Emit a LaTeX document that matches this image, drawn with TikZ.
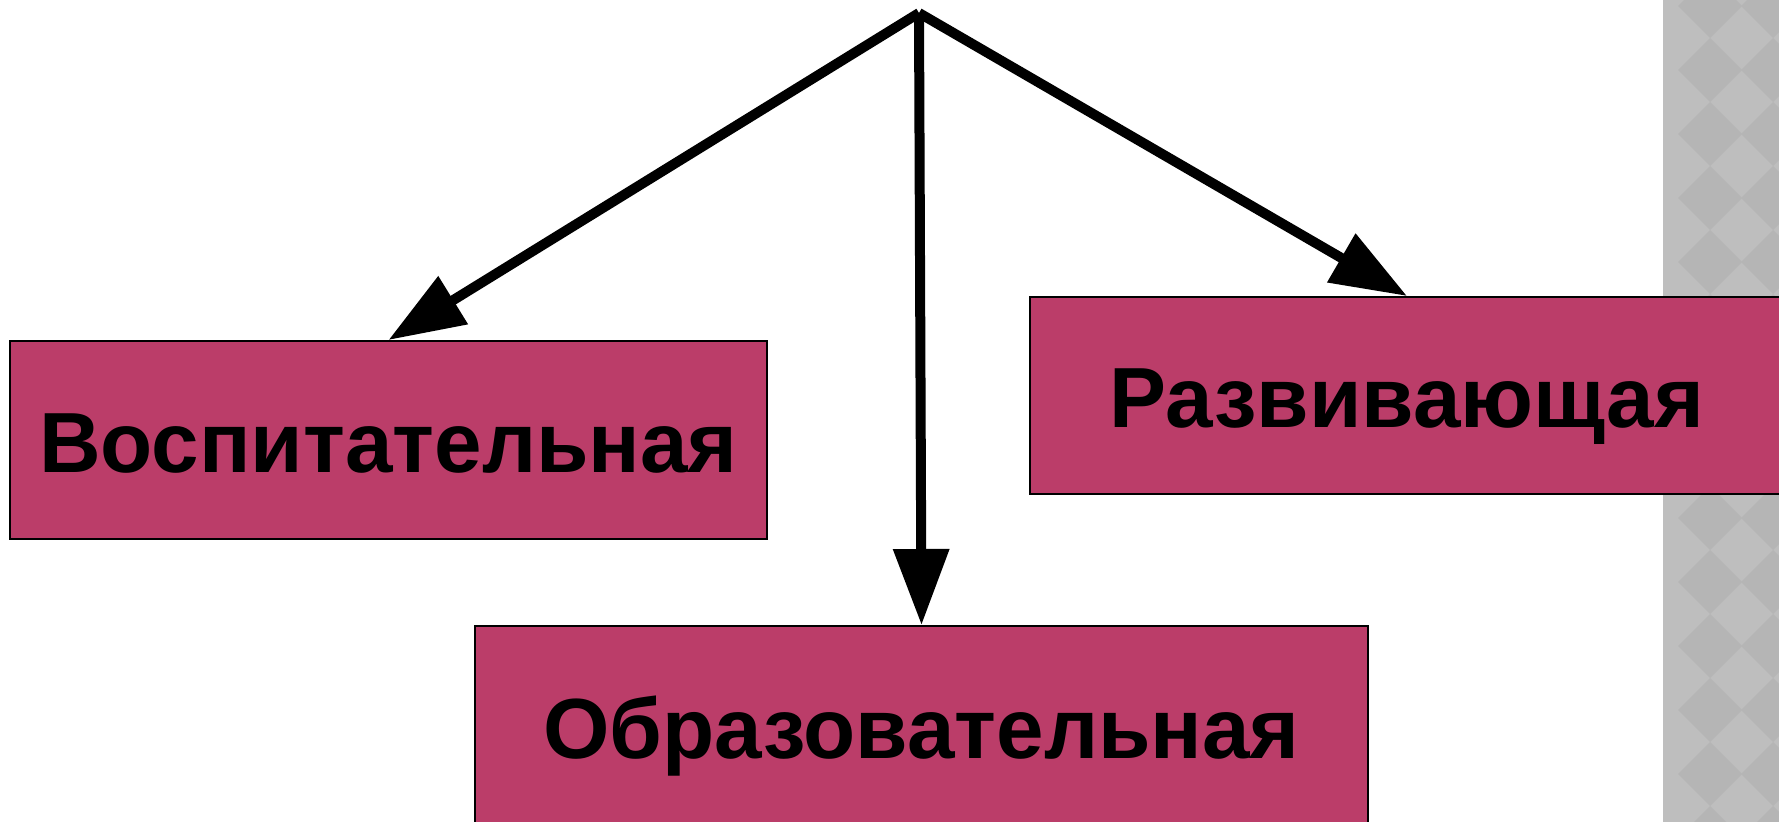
\documentclass[tikz,border=0pt]{standalone}
\usepackage{fontspec}
\setmainfont{Liberation Sans}
\usepackage{tikz}
\usetikzlibrary{arrows.meta}

\definecolor{boxred}{HTML}{BB3D69}
\definecolor{stripA}{HTML}{BEBEBE}
\definecolor{stripB}{HTML}{B5B5B5}

\tikzset{
  kind/.style={draw=black, line width=1pt, fill=boxred, inner sep=0pt,
    text height=36pt, text depth=4pt,
    font=\fontsize{42.7}{50}\selectfont\bfseries},
  arr/.style={line width=5pt, -{Triangle[length=38pt, width=27pt]}}
}

\begin{document}
\begin{tikzpicture}[x=0.5pt, y=-0.5pt]
    \useasboundingbox (0, 0) rectangle (1779, 821);
    \clip (0, 0) rectangle (1779, 821);
    % grey strip on the right
    \fill[stripA] (1663, -10) rectangle (1790, 830);
    \begin{scope}
      \clip (1663, -10) rectangle (1790, 830);
      \foreach \i in {0, ..., 2}
        \foreach \j in {0, ..., 14}
          \fill[stripB] ({1710 + 63*\i}, {38 + 64*(\j - 1)}) -- ++(32, 32) -- ++(-32, 32) -- ++(-32, -32) -- cycle;
    \end{scope}
    \coordinate (top) at (919, 13);
    \node[kind, minimum width=378.5pt, minimum height=99pt] (V) at (388.5, 440){Воспитательная};
    \node[kind, minimum width=377pt, minimum height=98.5pt] (R) at (1407, 395.5){Развивающая};
    \node[kind, minimum width=446.5pt, minimum height=100pt] (O) at (921.5, 726){Образовательная};
    \draw[arr] (top)--(V.north);
    \draw[arr] (top)--(O.north);
    \draw[arr] (top)--(R.north);
  \end{tikzpicture}
\end{document}
